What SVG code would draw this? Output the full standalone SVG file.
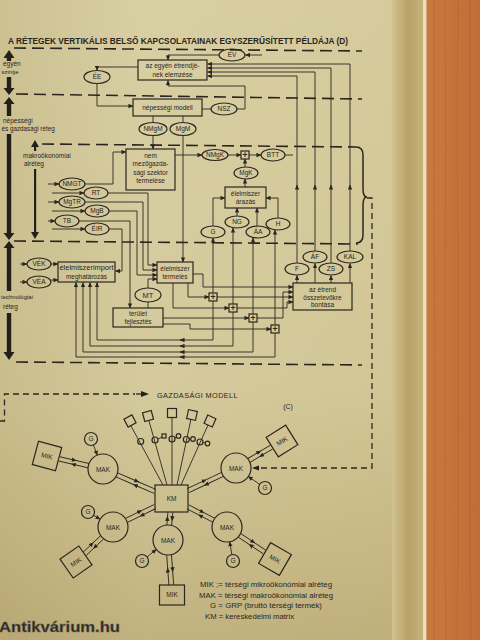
<svg xmlns="http://www.w3.org/2000/svg" width="480" height="640" viewBox="0 0 480 640">
<defs>
<linearGradient id="pg" x1="0" y1="0" x2="1" y2="0">
<stop offset="0" stop-color="#cdc192"/><stop offset="0.3" stop-color="#d8cfa3"/><stop offset="0.8" stop-color="#d6cb9c"/><stop offset="1" stop-color="#cfc191"/>
</linearGradient>
<linearGradient id="pv" x1="0" y1="0" x2="0" y2="1">
<stop offset="0" stop-color="#8a6a20" stop-opacity="0"/><stop offset="0.6" stop-color="#8a6a20" stop-opacity="0.05"/><stop offset="1" stop-color="#7a5a18" stop-opacity="0.25"/>
</linearGradient>
<linearGradient id="gut" x1="0" y1="0" x2="1" y2="0">
<stop offset="0" stop-color="#d2c392"/><stop offset="0.5" stop-color="#b9a167"/><stop offset="1" stop-color="#c8b47c"/>
</linearGradient>
<linearGradient id="wood" x1="0" y1="0" x2="1" y2="0">
<stop offset="0" stop-color="#c9793f"/><stop offset="0.5" stop-color="#c4733b"/><stop offset="1" stop-color="#bf6e38"/>
</linearGradient>
<marker id="a" viewBox="0 0 6 6" markerWidth="5" markerHeight="5" refX="5.5" refY="3" orient="auto" markerUnits="userSpaceOnUse">
<path d="M0,0.4 L6,3 L0,5.6 Z" fill="#2b2720"/>
</marker>
<marker id="m" viewBox="0 0 6 6" markerWidth="5" markerHeight="5" refX="3" refY="3" orient="auto" markerUnits="userSpaceOnUse">
<path d="M0,0.4 L6,3 L0,5.6 Z" fill="#2b2720"/>
</marker>
<style>
.l{fill:none;stroke:#2b2720;stroke-width:0.9}
.b{fill:none;stroke:#2b2720;stroke-width:1.2}
.d{fill:none;stroke:#2b2720;stroke-width:1.6;stroke-dasharray:12 6}
.d2{fill:none;stroke:#2b2720;stroke-width:1.3;stroke-dasharray:6 4}
.th{fill:#231f19}
text{font-family:"Liberation Sans",Arial,sans-serif;fill:#2a251d}
.t{font-size:6.5px;text-anchor:middle}
.s{font-size:6.5px}
.k{font-size:8.5px;text-anchor:middle;font-weight:bold}
.e{fill:none;stroke:#2b2720;stroke-width:1.2}
</style>
</defs>

<!-- background -->
<rect x="0" y="0" width="480" height="640" fill="url(#pg)"/>
<rect x="0" y="0" width="480" height="640" fill="url(#pv)"/>
<rect x="392" y="0" width="32" height="640" fill="url(#gut)"/>
<rect x="423" y="0" width="3.5" height="640" fill="#e9e0c6"/>
<rect x="426.5" y="0" width="53.5" height="640" fill="url(#wood)"/>
<g stroke="#a9582a" stroke-width="0.7" opacity="0.5" fill="none">
<path d="M434,0 C433,160 436,320 434,640"/><path d="M445,0 C447,200 443,400 446,640"/><path d="M458,0 C456,180 460,380 457,640"/><path d="M470,0 C471,220 468,420 471,640"/>
</g>

<!-- title -->
<text x="8" y="44" font-size="8.3" textLength="340" lengthAdjust="spacingAndGlyphs" font-weight="bold" fill="#2a251d">A RÉTEGEK VERTIKÁLIS BELSŐ KAPCSOLATAINAK EGYSZERŰSÍTETT PÉLDÁJA (D)</text>

<!-- layer dashed separators -->
<g id="separators">
<path class="d" d="M14,48 L362,51"/>
<path class="d" d="M16,94 L362,99"/>
<path class="d" d="M42,144 L356,147"/>
<path class="d" d="M14,241 L358,244"/>
<path class="d" d="M16,362 L362,365"/>
</g>

<!-- left layer arrows -->
<g id="layer-arrows">
<polygon class="th" points="9,50 3.5,58 14.5,58"/><rect class="th" x="6.8" y="57" width="4.4" height="4"/>
<rect class="th" x="6.8" y="77" width="4.4" height="12"/><polygon class="th" points="3.5,88 14.5,88 9,95"/>
<polygon class="th" points="9,97 3.5,104 14.5,104"/><rect class="th" x="6.8" y="103" width="4.4" height="13"/>
<rect class="th" x="6.8" y="134" width="4.4" height="100"/><polygon class="th" points="3.5,233 14.5,233 9,240"/>
<polygon class="th" points="9,241 3.5,248 14.5,248"/><rect class="th" x="6.8" y="247" width="4.4" height="44"/>
<rect class="th" x="6.8" y="313" width="4.4" height="40"/><polygon class="th" points="3.5,352 14.5,352 9,360"/>
<polygon class="th" points="35,140 31,147 39,147"/><rect class="th" x="34" y="146" width="2.2" height="5"/>
<rect class="th" x="34" y="169" width="2.2" height="64"/><polygon class="th" points="31,232 39,232 35,239"/>
<text class="s" x="3" y="66">egyén</text>
<text x="1.5" y="74" font-size="6">szintje</text>
<text class="s" x="3" y="123">népességi</text>
<text x="1.5" y="130.5" font-size="6.3">és gazdasági réteg</text>
<text class="s" x="23" y="158">makroökonómiai</text>
<text class="s" x="24" y="166">alréteg</text>
<text x="1" y="299" font-size="6">technológiai</text>
<text class="s" x="3" y="309">réteg</text>
</g>

<!-- connectors -->
<g id="connectors">
<path class="l" d="M262,55 H245.5" marker-end="url(#a)"/>
<path class="l" d="M219,55 H168 V60" marker-end="url(#a)"/>
<path class="l" d="M138,67 H97 V70.5" marker-end="url(#a)"/>
<path class="l" d="M97,83.5 V106 H133" marker-end="url(#a)"/>
<path class="l" d="M237,109 H245 V86 H168 V80.5" marker-end="url(#a)"/>
<path class="l" d="M350,251 V185" marker-end="url(#a)"/><path class="l" d="M350,186 V64 H207.5" marker-end="url(#a)"/>
<path class="l" d="M331,263 V185" marker-end="url(#a)"/><path class="l" d="M331,186 V68 H207.5" marker-end="url(#a)"/>
<path class="l" d="M315,251 V185" marker-end="url(#a)"/><path class="l" d="M315,186 V72 H207.5" marker-end="url(#a)"/>
<path class="l" d="M297,263 V185" marker-end="url(#a)"/><path class="l" d="M297,186 V76 H207.5" marker-end="url(#a)"/>
<path class="l" d="M202,109 H211"/>
<path class="l" d="M153,116 V122.5"/>
<path class="l" d="M183,116 V122.5"/>
<path class="l" d="M153,135.5 V149" marker-end="url(#a)"/>
<path class="l" d="M183,135.5 V262" marker-end="url(#a)"/>
<path class="l" d="M175,155 H202" marker-end="url(#a)"/>
<path class="l" d="M228,155 H241" marker-end="url(#a)"/>
<path class="l" d="M249,155 H261" marker-end="url(#a)"/>
<path class="l" d="M285,155 H293"/>
<path class="l" d="M245,167 V159" marker-end="url(#a)"/>
<path class="l" d="M245,187 V179" marker-end="url(#a)"/>
<path class="l" d="M213,226 V198 H225" marker-end="url(#a)"/>
<path class="l" d="M278,218 V198 H266" marker-end="url(#a)"/>
<path class="l" d="M237,216 V208" marker-end="url(#a)"/>
<path class="l" d="M257,226 V208" marker-end="url(#a)"/>
<path fill="none" stroke="#2b2720" stroke-width="1.5" d="M356,147 Q363,147 363,155 V189 Q363,197 367,197 Q363,197 363,205 V235 Q363,243 356,243"/>
<path class="d2" d="M367,198 H372 V468 H256"/>
<polygon class="th" points="252,468 259,465.5 259,470.5"/>
<path class="l" d="M48,184 H59" marker-end="url(#a)"/>
<path class="l" d="M52,193 H84" marker-end="url(#a)"/>
<path class="l" d="M48,202 H59" marker-end="url(#a)"/>
<path class="l" d="M52,211 H85" marker-end="url(#a)"/>
<path class="l" d="M48,221 H55" marker-end="url(#a)"/>
<path class="l" d="M52,229 H85" marker-end="url(#a)"/>
<path class="l" d="M85,184 H113 V152 H126" marker-end="url(#a)"/>
<path class="l" d="M108,193 H148 V265 H157" marker-end="url(#a)"/>
<path class="l" d="M85,202 H143 V270 H157" marker-end="url(#a)"/>
<path class="l" d="M109,211 H137 V275 H157" marker-end="url(#a)"/>
<path class="l" d="M79,221 H130 V308" marker-end="url(#a)"/>
<path class="l" d="M109,229 H122 V271 H115.5" marker-end="url(#a)"/>
<path class="l" d="M20,264 H27" marker-end="url(#a)"/>
<path class="l" d="M20,282 H27" marker-end="url(#a)"/>
<path class="l" d="M51,264 H58" marker-end="url(#a)"/>
<path class="l" d="M51,280 H58" marker-end="url(#a)"/>
<path class="l" d="M148,288 V279 H157" marker-end="url(#a)"/>
<path class="l" d="M148,302 V308"/>
<path class="l" d="M193,274 H203 V287 H293" marker-end="url(#a)"/>
<path class="l" d="M188,283 V297 H209" marker-end="url(#a)"/>
<path class="l" d="M173,283 V308 H229" marker-end="url(#a)"/>
<path class="l" d="M163,318 H249" marker-end="url(#a)"/>
<path class="l" d="M163,324 H190 V329 H271" marker-end="url(#a)"/>
<path class="l" d="M217,297 H293" marker-end="url(#a)"/>
<path class="l" d="M237,308 H287 V302 H293" marker-end="url(#a)"/>
<path class="l" d="M257,318 H283 V292 H293" marker-end="url(#a)"/>
<path class="l" d="M213,293 V238" marker-end="url(#a)"/>
<path class="l" d="M233,304 V228" marker-end="url(#a)"/>
<path class="l" d="M253,314 V238" marker-end="url(#a)"/>
<path class="l" d="M275,325 V230" marker-end="url(#a)"/>
<path class="l" d="M213,301 V340 H97 V282.5" marker-end="url(#a)"/>
<path class="l" d="M233,312 V346 H90 V282.5" marker-end="url(#a)"/>
<path class="l" d="M253,322 V352 H83 V282.5" marker-end="url(#a)"/>
<path class="l" d="M275,333 V357 H76 V282.5" marker-end="url(#a)"/>
<path class="l" d="M183,340 H180" marker-end="url(#a)"/>
<path class="l" d="M183,346 H180" marker-end="url(#a)"/>
<path class="l" d="M183,352 H180" marker-end="url(#a)"/>
<path class="l" d="M183,357 H180" marker-end="url(#a)"/>
<path class="l" d="M297,283 V275.5" marker-end="url(#a)"/>
<path class="l" d="M315,283 V263.5" marker-end="url(#a)"/>
<path class="l" d="M331,283 V275.5" marker-end="url(#a)"/>
<path class="l" d="M350,283 V263.5" marker-end="url(#a)"/>
</g>

<g id="EV"><ellipse class="e" cx="232" cy="55" rx="13" ry="6"/><text class="t" x="232" y="57.3">ÉV</text></g>
<g id="box-etrend-elemzes"><rect class="b" x="138" y="60" width="69" height="20"/><text class="t" x="172.5" y="68">az egyén étrendjé-</text><text class="t" x="172.5" y="76.5">nek elemzése</text></g>
<g id="EE"><ellipse class="e" cx="97" cy="77" rx="13" ry="6.5"/><text class="t" x="97" y="79.3">ÉE</text></g>
<g id="box-nepessegi"><rect class="b" x="133" y="99" width="69" height="17"/><text class="t" x="167.5" y="110">népességi modell</text></g>
<g id="NSZ"><ellipse class="e" cx="224" cy="109" rx="13" ry="6"/><text class="t" x="224" y="111.3">NSZ</text></g>
<g id="NMgM"><ellipse class="e" cx="153" cy="129" rx="14" ry="6.5"/><text class="t" x="153" y="131.3">NMgM</text></g>
<g id="MgM"><ellipse class="e" cx="183" cy="129" rx="13" ry="6.5"/><text class="t" x="183" y="131.3">MgM</text></g>
<g id="box-nem-mezogazdasagi"><rect class="b" x="126" y="149" width="49" height="41"/><text class="t" x="150.5" y="158">nem</text><text class="t" x="150.5" y="166">mezőgazda-</text><text class="t" x="150.5" y="174.5">sági szektor</text><text class="t" x="150.5" y="183">termelése</text></g>
<g id="NMgK"><ellipse class="e" cx="215" cy="155" rx="13" ry="5.5"/><text class="t" x="215" y="157.3">NMgK</text></g>
<g id="plus0"><rect class="b" x="241" y="151" width="8" height="8"/><text class="k" x="245" y="158">+</text></g>
<g id="BTT"><ellipse class="e" cx="273" cy="155" rx="12" ry="6"/><text class="t" x="273" y="157.3">BTT</text></g>
<g id="MgK"><ellipse class="e" cx="246" cy="173" rx="12" ry="6"/><text class="t" x="246" y="175.3">MgK</text></g>
<g id="box-arazas"><rect class="b" x="225" y="187" width="41" height="21"/><text class="t" x="245.5" y="196">élelmiszer</text><text class="t" x="245.5" y="204">árazás</text></g>
<g id="G-top"><ellipse class="e" cx="213" cy="232" rx="12" ry="6"/><text class="t" x="213" y="234.3">G</text></g>
<g id="NG"><ellipse class="e" cx="237" cy="222" rx="12" ry="6"/><text class="t" x="237" y="224.3">NG</text></g>
<g id="AA"><ellipse class="e" cx="258" cy="232" rx="12" ry="6"/><text class="t" x="258" y="234.3">ÁA</text></g>
<g id="H"><ellipse class="e" cx="278" cy="224" rx="12" ry="6"/><text class="t" x="278" y="226.3">H</text></g>

<g id="NMGT"><ellipse class="e" cx="72" cy="184" rx="13" ry="6"/><text class="t" x="72" y="186.3">NMGT</text></g>
<g id="RT"><ellipse class="e" cx="96" cy="193" rx="12" ry="6"/><text class="t" x="96" y="195.3">RT</text></g>
<g id="MgTR"><ellipse class="e" cx="72" cy="202" rx="13" ry="6"/><text class="t" x="72" y="204.3">MgTR</text></g>
<g id="MgB"><ellipse class="e" cx="97" cy="211" rx="12" ry="6"/><text class="t" x="97" y="213.3">MgB</text></g>
<g id="TB"><ellipse class="e" cx="67" cy="221" rx="12" ry="6"/><text class="t" x="67" y="223.3">TB</text></g>
<g id="EIR"><ellipse class="e" cx="97" cy="229" rx="12" ry="6"/><text class="t" x="97" y="231.3">ÉIR</text></g>

<g id="VEK"><ellipse class="e" cx="39" cy="264" rx="12" ry="6"/><text class="t" x="39" y="266.3">VÉK</text></g>
<g id="VEA"><ellipse class="e" cx="39" cy="282" rx="12" ry="6"/><text class="t" x="39" y="284.3">VÉA</text></g>
<g id="box-import"><rect class="b" x="58" y="262" width="57" height="20"/><text class="t" x="86.5" y="270" textLength="54" lengthAdjust="spacingAndGlyphs">élelmiszerimport</text><text class="t" x="86.5" y="278.5">meghatározás</text></g>
<g id="box-termeles"><rect class="b" x="157" y="262" width="36" height="21"/><text class="t" x="175" y="270.5">élelmiszer</text><text class="t" x="175" y="279">termelés</text></g>
<g id="MT"><ellipse class="e" cx="148" cy="295" rx="13" ry="7"/><text x="148" y="297.6" font-size="7.5" text-anchor="middle">MT</text></g>
<g id="box-terulet"><rect class="b" x="113" y="308" width="50" height="19"/><text class="t" x="138" y="316">terület</text><text class="t" x="138" y="324">fejlesztés</text></g>
<g id="plus1"><rect class="b" x="209" y="293" width="8" height="8" fill="#d6cc9e"/><text class="k" x="213" y="300">+</text></g>
<g id="plus2"><rect class="b" x="229" y="304" width="8" height="8" fill="#d6cc9e"/><text class="k" x="233" y="311">+</text></g>
<g id="plus3"><rect class="b" x="249" y="314" width="8" height="8" fill="#d6cc9e"/><text class="k" x="253" y="321">+</text></g>
<g id="plus4"><rect class="b" x="271" y="325" width="8" height="8" fill="#d6cc9e"/><text class="k" x="275" y="332">+</text></g>
<g id="F"><ellipse class="e" cx="297" cy="269" rx="12" ry="6"/><text class="t" x="297" y="271.3">F</text></g>
<g id="AF"><ellipse class="e" cx="315" cy="257" rx="12" ry="6"/><text class="t" x="315" y="259.3">ÁF</text></g>
<g id="ZS"><ellipse class="e" cx="331" cy="269" rx="12" ry="6"/><text class="t" x="331" y="271.3">ZS</text></g>
<g id="KAL"><ellipse class="e" cx="350" cy="257" rx="13" ry="6"/><text class="t" x="350" y="259.3">KAL</text></g>
<g id="box-etrend-bontas"><rect class="b" x="293" y="283" width="59" height="27"/><text class="t" x="322.5" y="292">az étrend</text><text class="t" x="322.5" y="299.5">összetevőkre</text><text class="t" x="322.5" y="306.5">bontása</text></g>

<g id="gazdasagi-modell-link">
<path class="d2" d="M0,421 H4.5 V394 H135"/>
<path d="M136,394 H142" stroke="#2b2720" stroke-width="1.3"/>
<polygon class="th" points="149,394 141,391 141,397"/>
<text x="157" y="397.5" font-size="7.3" letter-spacing="0.4">GAZDASÁGI MODELL</text>
<text x="288" y="408.5" font-size="7" text-anchor="middle">(C)</text>
</g>

<g id="star-connectors">
<g transform="translate(103,469) rotate(23.3)"><path class="l" d="M15,-2.2 L36,-2.2 L56.6,-2.2" marker-mid="url(#m)"/><path class="l" d="M56.6,2.2 L36,2.2 L15,2.2" marker-mid="url(#m)"/></g>
<g transform="translate(113,527) rotate(-26)"><path class="l" d="M15,-2.2 L31,-2.2 L46.7,-2.2" marker-mid="url(#m)"/><path class="l" d="M46.7,2.2 L31,2.2 L15,2.2" marker-mid="url(#m)"/></g>
<g transform="translate(168,540) rotate(-85.2)"><path class="l" d="M15,-2.4 L21.5,-2.4 L28,-2.4" marker-mid="url(#m)"/><path class="l" d="M28,2.4 L21.5,2.4 L15,2.4" marker-mid="url(#m)"/></g>
<g transform="translate(227,527) rotate(207.2)"><path class="l" d="M15,-2.2 L29,-2.2 L44,-2.2" marker-mid="url(#m)"/><path class="l" d="M44,2.2 L29,2.2 L15,2.2" marker-mid="url(#m)"/></g>
<g transform="translate(236,468) rotate(154.7)"><path class="l" d="M15,-2.2 L34,-2.2 L53,-2.2" marker-mid="url(#m)"/><path class="l" d="M53,2.2 L34,2.2 L15,2.2" marker-mid="url(#m)"/></g>
<g transform="translate(103,469) rotate(193)"><path class="l" d="M15,-2.2 L30,-2.2 L45,-2.2" marker-mid="url(#m)"/><path class="l" d="M45,2.2 L30,2.2 L15,2.2" marker-mid="url(#m)"/></g>
<g transform="translate(113,527) rotate(136.6)"><path class="l" d="M15,-2.2 L27,-2.2 L39,-2.2" marker-mid="url(#m)"/><path class="l" d="M39,2.2 L27,2.2 L15,2.2" marker-mid="url(#m)"/></g>
<g transform="translate(168,540) rotate(85.8)"><path class="l" d="M15,-2.4 L30,-2.4 L45,-2.4" marker-mid="url(#m)"/><path class="l" d="M45,2.4 L30,2.4 L15,2.4" marker-mid="url(#m)"/></g>
<g transform="translate(227,527) rotate(33.7)"><path class="l" d="M15,-2.2 L30,-2.2 L45,-2.2" marker-mid="url(#m)"/><path class="l" d="M45,2.2 L30,2.2 L15,2.2" marker-mid="url(#m)"/></g>
<g transform="translate(236,468) rotate(-30.4)"><path class="l" d="M15,-2.2 L28,-2.2 L41,-2.2" marker-mid="url(#m)"/><path class="l" d="M41,2.2 L28,2.2 L15,2.2" marker-mid="url(#m)"/></g>
<path class="l" d="M93.4,445 L97.4,455.1" marker-end="url(#a)"/>
<path class="l" d="M93.6,515.3 L100.1,519.3" marker-end="url(#a)"/>
<path class="l" d="M147.1,556.9 L156.3,549.4" marker-end="url(#a)"/>
<path class="l" d="M231.9,554.6 L229.6,541.8" marker-end="url(#a)"/>
<path class="l" d="M259.6,484.3 L248.3,476.5" marker-end="url(#a)"/>
<path class="l" d="M131,426 L163,485"/>
<path class="l" d="M149,421 L167,485"/>
<path class="l" d="M172,418 L172,485"/>
<path class="l" d="M191,419 L177,485"/>
<path class="l" d="M208,425 L181,485"/>
<path class="l" d="M158,439 L162,437"/>
<path class="l" d="M175,438 L176,437"/>
<path class="l" d="M189,439 L190.5,439"/>
<path class="l" d="M203,442 L205,443"/>
</g>

<g id="fan-nodes">
<rect class="b" x="-4.5" y="-4.5" width="9" height="9" transform="translate(130,421) rotate(-28)"/>
<rect class="b" x="-4.5" y="-4.5" width="9" height="9" transform="translate(148,416) rotate(-15)"/>
<rect class="b" x="-4.5" y="-4.5" width="9" height="9" transform="translate(172,413)"/>
<rect class="b" x="-4.5" y="-4.5" width="9" height="9" transform="translate(192,415) rotate(12)"/>
<rect class="b" x="-4.5" y="-4.5" width="9" height="9" transform="translate(210,421) rotate(24)"/>
<circle class="b" cx="140.7" cy="441.5" r="3" fill="#d6cc9e"/>
<circle class="b" cx="155" cy="440" r="3" fill="#d6cc9e"/>
<circle class="b" cx="172" cy="439" r="3" fill="#d6cc9e"/>
<circle class="b" cx="186.3" cy="439.5" r="3" fill="#d6cc9e"/>
<circle class="b" cx="200" cy="442" r="3" fill="#d6cc9e"/>
<rect class="b" x="162" y="434" width="4" height="4" fill="#d6cc9e"/>
<circle class="b" cx="178.5" cy="436" r="2.3" fill="#d6cc9e"/>
<circle class="b" cx="193" cy="439" r="2.3" fill="#d6cc9e"/>
<circle class="b" cx="207.5" cy="443.5" r="2.3" fill="#d6cc9e"/>
</g>

<g id="KM"><rect class="b" x="155" y="485" width="33" height="27" fill="#d6cc9e"/><text class="t" x="171.5" y="501">KM</text></g>
<g id="MAK-1"><circle class="b" cx="103" cy="469" r="15" fill="#d6cc9e"/><text class="t" x="103" y="471.5">MAK</text></g>
<g id="MAK-2"><circle class="b" cx="113" cy="527" r="15" fill="#d6cc9e"/><text class="t" x="113" y="529.5">MAK</text></g>
<g id="MAK-3"><circle class="b" cx="168" cy="540" r="15" fill="#d6cc9e"/><text class="t" x="168" y="542.5">MAK</text></g>
<g id="MAK-4"><circle class="b" cx="227" cy="527" r="15" fill="#d6cc9e"/><text class="t" x="227" y="529.5">MAK</text></g>
<g id="MAK-5"><circle class="b" cx="236" cy="468" r="15" fill="#d6cc9e"/><text class="t" x="236" y="470.5">MAK</text></g>
<g id="MIK-1" transform="translate(47,456) rotate(15)"><rect class="b" x="-12" y="-12" width="24" height="24"/><text class="t" x="0" y="2.3">MIK</text></g>
<g id="MIK-2" transform="translate(76,562) rotate(-35)"><rect class="b" x="-11.5" y="-11.5" width="23" height="23"/><text class="t" x="0" y="2.3">MIK</text></g>
<g id="MIK-3"><rect class="b" x="159.5" y="585" width="25" height="20"/><text class="t" x="172" y="597.3">MIK</text></g>
<g id="MIK-4" transform="translate(275,559) rotate(30)"><rect class="b" x="-12" y="-12" width="24" height="24"/><text class="t" x="0" y="2.3">MIK</text></g>
<g id="MIK-5" transform="translate(282,441) rotate(-32)"><rect class="b" x="-11.5" y="-11.5" width="23" height="23"/><text class="t" x="0" y="2.3">MIK</text></g>
<g id="G-1"><circle class="b" cx="91" cy="439" r="6.5"/><text class="t" x="91" y="441.3">G</text></g>
<g id="G-2"><circle class="b" cx="88" cy="512" r="6.5"/><text class="t" x="88" y="514.3">G</text></g>
<g id="G-3"><circle class="b" cx="142" cy="561" r="6.5"/><text class="t" x="142" y="563.3">G</text></g>
<g id="G-4"><circle class="b" cx="233" cy="561" r="6.5"/><text class="t" x="233" y="563.3">G</text></g>
<g id="G-5"><circle class="b" cx="265" cy="488" r="6.5"/><text class="t" x="265" y="490.3">G</text></g>

<g id="legend" font-size="7">
<text x="200" y="586.5" font-size="7" textLength="132" lengthAdjust="spacingAndGlyphs">MIK ;= térségi mikroökonómiai alréteg</text>
<text x="199" y="597.5" font-size="7" textLength="134" lengthAdjust="spacingAndGlyphs">MAK = térségi makroökonómiai alréteg</text>
<text x="210" y="608" font-size="7" textLength="112" lengthAdjust="spacingAndGlyphs">G = GRP (bruttó térségi termék)</text>
<text x="205" y="618.5" font-size="7" textLength="89" lengthAdjust="spacingAndGlyphs">KM = kereskedelmi matrix</text>
</g>

<text x="-1" y="632" font-size="15.5" font-weight="bold" fill="#f3efe6" stroke="#6b6459" stroke-width="0.5" textLength="121" lengthAdjust="spacingAndGlyphs">Antikvárium.hu</text>
</svg>
